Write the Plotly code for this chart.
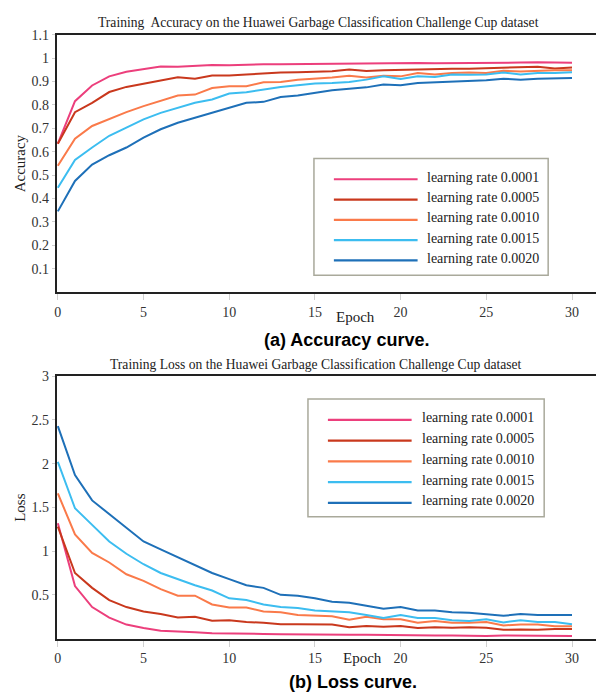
import plotly.graph_objects as go

W, H = 596, 694

epochs = list(range(31))
rate_labels = ["learning rate 0.0001", "learning rate 0.0005", "learning rate 0.0010",
               "learning rate 0.0015", "learning rate 0.0020"]
colors = ["#EC3F7C", "#C9381D", "#FA7A4A", "#3CBDF0", "#1E70B8"]

acc_0001 = [0.634, 0.816, 0.883, 0.922, 0.942, 0.953, 0.964, 0.963, 0.966, 0.971, 0.970,
            0.973, 0.974, 0.974, 0.975, 0.976, 0.977, 0.977, 0.977, 0.978, 0.979, 0.979,
            0.978, 0.978, 0.981, 0.980, 0.980, 0.981, 0.982, 0.980, 0.980]
acc_0005 = [0.634, 0.769, 0.809, 0.855, 0.877, 0.889, 0.904, 0.918, 0.912, 0.926, 0.926,
            0.930, 0.935, 0.938, 0.940, 0.942, 0.944, 0.951, 0.945, 0.948, 0.950, 0.953,
            0.954, 0.955, 0.955, 0.957, 0.959, 0.960, 0.963, 0.956, 0.960]
acc_0010 = [0.540, 0.656, 0.710, 0.741, 0.769, 0.795, 0.819, 0.840, 0.844, 0.872, 0.880,
            0.880, 0.897, 0.898, 0.908, 0.912, 0.917, 0.925, 0.917, 0.925, 0.922, 0.936,
            0.930, 0.936, 0.939, 0.936, 0.946, 0.943, 0.946, 0.948, 0.948]
acc_0015 = [0.446, 0.565, 0.618, 0.668, 0.703, 0.738, 0.766, 0.788, 0.809, 0.823, 0.849,
            0.854, 0.866, 0.877, 0.884, 0.892, 0.894, 0.898, 0.908, 0.922, 0.911, 0.922,
            0.919, 0.930, 0.929, 0.930, 0.939, 0.930, 0.936, 0.936, 0.940]
acc_0020 = [0.345, 0.475, 0.545, 0.585, 0.618, 0.660, 0.696, 0.724, 0.745, 0.766, 0.788,
            0.809, 0.813, 0.834, 0.840, 0.851, 0.863, 0.869, 0.875, 0.887, 0.884, 0.894,
            0.897, 0.901, 0.905, 0.905, 0.912, 0.908, 0.912, 0.912, 0.915]

loss_0001 = [1.32, 0.60, 0.36, 0.24, 0.16, 0.12, 0.09, 0.085, 0.072, 0.06, 0.06,
             0.055, 0.053, 0.05, 0.047, 0.045, 0.045, 0.045, 0.045, 0.042, 0.035, 0.036,
             0.036, 0.035, 0.03, 0.03, 0.035, 0.033, 0.032, 0.03, 0.03]
loss_0005 = [1.28, 0.75, 0.58, 0.44, 0.36, 0.31, 0.28, 0.24, 0.25, 0.205, 0.21,
             0.19, 0.18, 0.165, 0.165, 0.165, 0.16, 0.13, 0.145, 0.135, 0.145, 0.12,
             0.13, 0.125, 0.13, 0.125, 0.10, 0.105, 0.10, 0.11, 0.11]
loss_0010 = [1.66, 1.19, 0.98, 0.87, 0.735, 0.66, 0.565, 0.49, 0.49, 0.39, 0.355,
             0.355, 0.31, 0.30, 0.27, 0.26, 0.255, 0.215, 0.25, 0.22, 0.22, 0.18,
             0.20, 0.18, 0.18, 0.19, 0.15, 0.16, 0.16, 0.14, 0.14]
loss_0015 = [2.02, 1.49, 1.30, 1.11, 0.97, 0.85, 0.75, 0.68, 0.61, 0.55, 0.46,
             0.44, 0.39, 0.36, 0.35, 0.32, 0.31, 0.30, 0.27, 0.235, 0.27, 0.235,
             0.235, 0.21, 0.20, 0.22, 0.185, 0.21, 0.19, 0.19, 0.165]
loss_0020 = [2.43, 1.87, 1.58, 1.42, 1.26, 1.11, 1.02, 0.93, 0.84, 0.75, 0.68,
             0.61, 0.58, 0.50, 0.49, 0.46, 0.42, 0.41, 0.375, 0.34, 0.36, 0.32,
             0.32, 0.30, 0.295, 0.28, 0.26, 0.28, 0.27, 0.27, 0.27]

acc_series = [acc_0001, acc_0005, acc_0010, acc_0015, acc_0020]
loss_series = [loss_0001, loss_0005, loss_0010, loss_0015, loss_0020]

x_ticks = [0, 5, 10, 15, 20, 25, 30]
acc_ticks = [0.1, 0.2, 0.3, 0.4, 0.5, 0.6, 0.7, 0.8, 0.9, 1.0, 1.1]
acc_ticktext = ["0.1", "0.2", "0.3", "0.4", "0.5", "0.6", "0.7", "0.8", "0.9", "1", "1.1"]
loss_ticks = [0.5, 1, 1.5, 2, 2.5, 3]
loss_ticktext = ["0.5", "1", "1.5", "2", "2.5", "3"]

acc_title = "Training  Accuracy on the Huawei Garbage Classification Challenge Cup dataset"
loss_title = "Training Loss on the Huawei Garbage Classification Challenge Cup dataset"

SERIF = "Liberation Serif, Times New Roman, serif"


def px(x):
    return x / W


def py(y):
    return 1 - y / H


fig = go.Figure()
for name, col, ys in zip(rate_labels, colors, acc_series):
    fig.add_trace(go.Scatter(x=epochs, y=ys, mode="lines", name=name,
                             line=dict(color=col, width=2), xaxis="x", yaxis="y",
                             showlegend=False))
for name, col, ys in zip(rate_labels, colors, loss_series):
    fig.add_trace(go.Scatter(x=epochs, y=ys, mode="lines", name=name,
                             line=dict(color=col, width=2), xaxis="x2", yaxis="y2",
                             showlegend=False))

xcommon = dict(domain=[px(55), 1], range=[-0.06, 31.4], tickvals=x_ticks,
               showline=True, linecolor="#222", linewidth=2, mirror=True,
               ticks="outside", ticklen=6, tickcolor="#d0d0d0", tickwidth=1,
               showgrid=False, zeroline=False,
               tickfont=dict(family=SERIF, size=14, color="#333"))
ycommon = dict(showline=True, linecolor="#222", linewidth=2, mirror=False,
               ticks="outside", ticklen=3, tickcolor="#d0d0d0", tickwidth=1,
               showgrid=False, zeroline=False,
               tickfont=dict(family=SERIF, size=14, color="#333"))

fig.update_layout(
    width=W, height=H, margin=dict(l=0, r=0, t=0, b=0),
    paper_bgcolor="white", plot_bgcolor="white",
    xaxis=dict(anchor="y", **xcommon),
    yaxis=dict(anchor="x", domain=[py(288), py(28)], range=[0, 1.1],
               tickvals=acc_ticks, ticktext=acc_ticktext, **ycommon),
    xaxis2=dict(anchor="y2", **xcommon),
    yaxis2=dict(anchor="x2", domain=[py(638), py(373)], range=[0, 3],
                tickvals=loss_ticks, ticktext=loss_ticktext, **ycommon),
)

annotations = []
shapes = []


def txt(x, y, s, size=14, family=SERIF, color="#222", xanchor="center", angle=0, bold=False):
    if bold:
        s = "<b>" + s + "</b>"
    annotations.append(dict(x=px(x), y=py(y), xref="paper", yref="paper", text=s,
                            showarrow=False, xanchor=xanchor, yanchor="middle",
                            textangle=angle, font=dict(family=family, size=size, color=color)))


# titles
txt(318, 16, acc_title, size=13.6)
txt(315, 361, loss_title, size=13.6)
# axis titles
txt(18, 158, "Accuracy", size=15, angle=-90)
txt(18, 505, "Loss", size=15, angle=-90)
txt(355, 313, "Epoch", size=15)
txt(362, 658, "Epoch", size=15)
# captions
txt(346, 336, "(a) Accuracy curve.", size=18, family="Liberation Sans, Arial, sans-serif",
    color="#000", bold=True)
txt(352, 682, "(b) Loss curve.", size=18, family="Liberation Sans, Arial, sans-serif",
    color="#000", bold=True)

# legends (drawn as boxes with long line keys)
legend_specs = [
    dict(box=(313, 153, 548, 271), line_x=(333, 417), text_x=424, row0=174, step=20.5),
    dict(box=(307, 396, 544, 515), line_x=(327, 411), text_x=419, row0=417, step=21),
]
for spec in legend_specs:
    x0, y0, x1, y1 = spec["box"]
    shapes.append(dict(type="rect", xref="paper", yref="paper", x0=px(x0), y0=py(y0),
                       x1=px(x1), y1=py(y1), line=dict(color="#a9a99b", width=1.5),
                       fillcolor="white", layer="above"))
    for i, (name, col) in enumerate(zip(rate_labels, colors)):
        yy = spec["row0"] + i * spec["step"]
        shapes.append(dict(type="line", xref="paper", yref="paper",
                           x0=px(spec["line_x"][0]), x1=px(spec["line_x"][1]),
                           y0=py(yy), y1=py(yy), line=dict(color=col, width=2.2),
                           layer="above"))
        txt(spec["text_x"], yy - 2, name, size=14, xanchor="left")

fig.update_layout(annotations=annotations, shapes=shapes)
fig.write_html("out.html")
